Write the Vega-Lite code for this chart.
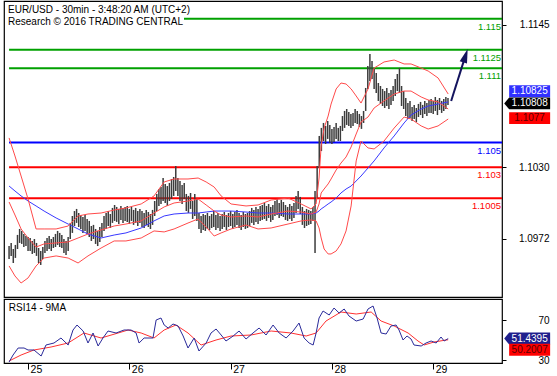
{
"$schema": "https://vega.github.io/schema/vega-lite/v6.json",
"padding": {"left": 3, "top": 0, "right": 0, "bottom": 0},
"autosize": {"type": "pad"},
"background": "white",
"spacing": 0,
"config": {"view": {"stroke": "#000", "strokeWidth": 1.2}, "font": "Liberation Sans", "axis": {"labelFont": "Liberation Sans", "labelColor": "#000", "tickColor": "#000", "domain": false, "grid": false}},
"datasets": {
"one": [{}],
"bars": [{"i":-9,"h":1.09663,"l":1.09559},{"i":-8,"h":1.09688,"l":1.09583},{"i":-7,"h":1.09639,"l":1.09526},{"i":-6,"h":1.09672,"l":1.09567},{"i":-5,"h":1.09753,"l":1.09639},{"i":-4,"h":1.09801,"l":1.09688},{"i":-3,"h":1.09785,"l":1.0968},{"i":-2,"h":1.09761,"l":1.09655},{"i":-1,"h":1.09744,"l":1.09663},{"i":0,"h":1.09736,"l":1.09623},{"i":1,"h":1.09728,"l":1.09623},{"i":2,"h":1.09704,"l":1.09599},{"i":3,"h":1.0972,"l":1.09607},{"i":4,"h":1.09688,"l":1.09583},{"i":5,"h":1.09647,"l":1.09526},{"i":6,"h":1.09623,"l":1.0951},{"i":7,"h":1.09655,"l":1.09559},{"i":8,"h":1.09704,"l":1.09607},{"i":9,"h":1.09728,"l":1.09623},{"i":10,"h":1.09744,"l":1.09639},{"i":11,"h":1.0972,"l":1.09623},{"i":12,"h":1.09736,"l":1.09647},{"i":13,"h":1.09761,"l":1.09655},{"i":14,"h":1.09785,"l":1.09672},{"i":15,"h":1.09769,"l":1.09655},{"i":16,"h":1.09753,"l":1.09647},{"i":17,"h":1.0972,"l":1.09607},{"i":18,"h":1.09704,"l":1.09591},{"i":19,"h":1.09736,"l":1.09623},{"i":20,"h":1.0985,"l":1.0972},{"i":21,"h":1.09906,"l":1.09769},{"i":22,"h":1.09946,"l":1.09825},{"i":23,"h":1.09963,"l":1.0985},{"i":24,"h":1.0993,"l":1.09817},{"i":25,"h":1.09914,"l":1.09801},{"i":26,"h":1.09898,"l":1.09769},{"i":27,"h":1.09914,"l":1.09785},{"i":28,"h":1.09882,"l":1.09761},{"i":29,"h":1.09866,"l":1.09736},{"i":30,"h":1.09825,"l":1.09704},{"i":31,"h":1.09834,"l":1.0972},{"i":32,"h":1.09801,"l":1.0968},{"i":33,"h":1.09785,"l":1.09663},{"i":34,"h":1.09817,"l":1.09696},{"i":35,"h":1.0985,"l":1.09736},{"i":36,"h":1.09906,"l":1.09785},{"i":37,"h":1.0993,"l":1.09801},{"i":38,"h":1.09946,"l":1.09825},{"i":39,"h":1.09922,"l":1.09809},{"i":40,"h":1.09971,"l":1.0985},{"i":41,"h":1.09995,"l":1.09866},{"i":42,"h":1.09979,"l":1.09858},{"i":43,"h":1.09963,"l":1.09842},{"i":44,"h":1.09987,"l":1.09874},{"i":45,"h":1.09971,"l":1.0985},{"i":46,"h":1.09979,"l":1.09866},{"i":47,"h":1.09987,"l":1.09858},{"i":48,"h":1.09963,"l":1.09842},{"i":49,"h":1.09979,"l":1.09866},{"i":50,"h":1.09955,"l":1.09834},{"i":51,"h":1.09971,"l":1.0985},{"i":52,"h":1.09946,"l":1.09825},{"i":53,"h":1.09963,"l":1.0985},{"i":54,"h":1.09946,"l":1.09817},{"i":55,"h":1.0993,"l":1.09809},{"i":56,"h":1.09955,"l":1.09834},{"i":57,"h":1.09938,"l":1.09817},{"i":58,"h":1.09922,"l":1.09801},{"i":59,"h":1.09955,"l":1.09834},{"i":60,"h":1.10027,"l":1.09906},{"i":61,"h":1.10084,"l":1.09946},{"i":62,"h":1.10124,"l":1.09987},{"i":63,"h":1.1014,"l":1.10003},{"i":64,"h":1.10213,"l":1.10027},{"i":65,"h":1.10165,"l":1.10011},{"i":66,"h":1.10148,"l":1.09987},{"i":67,"h":1.10173,"l":1.10027},{"i":68,"h":1.10205,"l":1.10044},{"i":69,"h":1.10221,"l":1.10068},{"i":70,"h":1.1031,"l":1.10108},{"i":71,"h":1.10213,"l":1.10068},{"i":72,"h":1.10189,"l":1.10027},{"i":73,"h":1.10157,"l":1.10003},{"i":74,"h":1.10173,"l":1.10044},{"i":75,"h":1.10084,"l":1.09946},{"i":76,"h":1.10068,"l":1.0993},{"i":77,"h":1.10092,"l":1.09963},{"i":78,"h":1.10027,"l":1.09882},{"i":79,"h":1.10084,"l":1.09906},{"i":80,"h":1.10044,"l":1.09866},{"i":81,"h":1.0993,"l":1.09801},{"i":82,"h":1.09906,"l":1.09769},{"i":83,"h":1.09922,"l":1.09793},{"i":84,"h":1.09914,"l":1.09785},{"i":85,"h":1.0993,"l":1.09801},{"i":86,"h":1.09906,"l":1.09793},{"i":87,"h":1.09922,"l":1.09809},{"i":88,"h":1.09946,"l":1.09817},{"i":89,"h":1.09914,"l":1.09793},{"i":90,"h":1.0993,"l":1.09809},{"i":91,"h":1.09906,"l":1.09785},{"i":92,"h":1.09922,"l":1.09801},{"i":93,"h":1.09938,"l":1.09817},{"i":94,"h":1.09914,"l":1.09793},{"i":95,"h":1.0993,"l":1.09817},{"i":96,"h":1.09946,"l":1.09825},{"i":97,"h":1.09922,"l":1.09801},{"i":98,"h":1.09938,"l":1.09817},{"i":99,"h":1.09955,"l":1.09834},{"i":100,"h":1.0993,"l":1.09809},{"i":101,"h":1.09914,"l":1.09793},{"i":102,"h":1.09938,"l":1.09817},{"i":103,"h":1.09922,"l":1.09801},{"i":104,"h":1.0993,"l":1.09809},{"i":105,"h":1.09946,"l":1.09825},{"i":106,"h":1.09971,"l":1.0985},{"i":107,"h":1.09955,"l":1.09834},{"i":108,"h":1.09979,"l":1.09858},{"i":109,"h":1.09963,"l":1.09842},{"i":110,"h":1.09987,"l":1.09866},{"i":111,"h":1.09995,"l":1.09874},{"i":112,"h":1.10011,"l":1.09882},{"i":113,"h":1.09987,"l":1.09866},{"i":114,"h":1.10003,"l":1.0989},{"i":115,"h":1.09979,"l":1.09858},{"i":116,"h":1.09995,"l":1.09874},{"i":117,"h":1.10027,"l":1.09906},{"i":118,"h":1.10044,"l":1.09914},{"i":119,"h":1.10011,"l":1.0989},{"i":120,"h":1.10036,"l":1.09906},{"i":121,"h":1.10019,"l":1.09898},{"i":122,"h":1.09995,"l":1.09874},{"i":123,"h":1.09979,"l":1.09866},{"i":124,"h":1.10003,"l":1.09882},{"i":125,"h":1.09987,"l":1.09866},{"i":126,"h":1.10011,"l":1.0989},{"i":127,"h":1.10068,"l":1.0993},{"i":128,"h":1.10108,"l":1.09963},{"i":129,"h":1.1006,"l":1.09922},{"i":130,"h":1.09979,"l":1.09834},{"i":131,"h":1.09946,"l":1.09809},{"i":132,"h":1.09963,"l":1.09825},{"i":133,"h":1.09955,"l":1.09834},{"i":134,"h":1.09946,"l":1.09842},{"i":135,"h":1.09979,"l":1.09866},{"i":136,"h":1.10108,"l":1.09607},{"i":137,"h":1.1031,"l":1.10052},{"i":138,"h":1.10553,"l":1.10294},{"i":139,"h":1.10618,"l":1.10431},{"i":140,"h":1.10658,"l":1.10512},{"i":141,"h":1.10634,"l":1.10488},{"i":142,"h":1.10674,"l":1.10529},{"i":143,"h":1.10642,"l":1.10496},{"i":144,"h":1.1061,"l":1.10488},{"i":145,"h":1.10626,"l":1.10504},{"i":146,"h":1.10658,"l":1.10529},{"i":147,"h":1.10618,"l":1.10512},{"i":148,"h":1.10634,"l":1.10512},{"i":149,"h":1.10714,"l":1.10593},{"i":150,"h":1.10755,"l":1.10618},{"i":151,"h":1.10771,"l":1.10642},{"i":152,"h":1.10747,"l":1.10634},{"i":153,"h":1.10731,"l":1.10618},{"i":154,"h":1.10739,"l":1.10634},{"i":155,"h":1.10771,"l":1.10658},{"i":156,"h":1.10755,"l":1.1065},{"i":157,"h":1.10731,"l":1.10626},{"i":158,"h":1.10714,"l":1.1061},{"i":159,"h":1.10755,"l":1.10658},{"i":160,"h":1.10941,"l":1.10755},{"i":161,"h":1.11119,"l":1.10933},{"i":162,"h":1.11216,"l":1.10997},{"i":163,"h":1.11159,"l":1.11014},{"i":164,"h":1.11103,"l":1.10933},{"i":165,"h":1.11062,"l":1.109},{"i":166,"h":1.10981,"l":1.10836},{"i":167,"h":1.10957,"l":1.10812},{"i":168,"h":1.10933,"l":1.10795},{"i":169,"h":1.10916,"l":1.10779},{"i":170,"h":1.10941,"l":1.10795},{"i":171,"h":1.109,"l":1.10771},{"i":172,"h":1.10925,"l":1.10804},{"i":173,"h":1.10957,"l":1.10836},{"i":174,"h":1.11014,"l":1.10876},{"i":175,"h":1.11054,"l":1.10916},{"i":176,"h":1.11103,"l":1.109},{"i":177,"h":1.10957,"l":1.10795},{"i":178,"h":1.10916,"l":1.10771},{"i":179,"h":1.1086,"l":1.10714},{"i":180,"h":1.1082,"l":1.1069},{"i":181,"h":1.10836,"l":1.10698},{"i":182,"h":1.10787,"l":1.10674},{"i":183,"h":1.10804,"l":1.1069},{"i":184,"h":1.10779,"l":1.10666},{"i":185,"h":1.10812,"l":1.10706},{"i":186,"h":1.10828,"l":1.10722},{"i":187,"h":1.10804,"l":1.10698},{"i":188,"h":1.10836,"l":1.10731},{"i":189,"h":1.1082,"l":1.10714},{"i":190,"h":1.10844,"l":1.10739},{"i":191,"h":1.10852,"l":1.10739},{"i":192,"h":1.10836,"l":1.10731},{"i":193,"h":1.10868,"l":1.10755},{"i":194,"h":1.10844,"l":1.10722},{"i":195,"h":1.1086,"l":1.10763},{"i":196,"h":1.10836,"l":1.10739},{"i":197,"h":1.10852,"l":1.10755},{"i":198,"h":1.10868,"l":1.10771},{"i":199,"h":1.1086,"l":1.10804}],
"bands": [{"i":-9,"u":1.10537,"m":1.10019,"lo":1.09502,"ma":1.10148},{"i":-6.2,"u":1.10391,"m":1.09914,"lo":1.09421,"ma":1.10108},{"i":-3.3,"u":1.10229,"m":1.09801,"lo":1.09364,"ma":1.10068},{"i":0,"u":1.10043,"m":1.09728,"lo":1.09405,"ma":1.10027},{"i":3.8,"u":1.09801,"m":1.09655,"lo":1.09502,"ma":1.09987},{"i":7.6,"u":1.09801,"m":1.0968,"lo":1.09566,"ma":1.09946},{"i":13.3,"u":1.09801,"m":1.09688,"lo":1.09583,"ma":1.0989},{"i":19,"u":1.09825,"m":1.09696,"lo":1.09566,"ma":1.09841},{"i":23.7,"u":1.09906,"m":1.09728,"lo":1.09526,"ma":1.09801},{"i":28.4,"u":1.09922,"m":1.0976,"lo":1.09583,"ma":1.0976},{"i":34.6,"u":1.0993,"m":1.09793,"lo":1.09647,"ma":1.09728},{"i":40.8,"u":1.09954,"m":1.09825,"lo":1.09704,"ma":1.09752},{"i":46.4,"u":1.09971,"m":1.09841,"lo":1.09704,"ma":1.09769},{"i":53.6,"u":1.10003,"m":1.09866,"lo":1.09728,"ma":1.09809},{"i":59.7,"u":1.10068,"m":1.0993,"lo":1.09785,"ma":1.09866},{"i":64.5,"u":1.10181,"m":1.09979,"lo":1.09777,"ma":1.09906},{"i":69.2,"u":1.10205,"m":1.10011,"lo":1.09801,"ma":1.09922},{"i":75.8,"u":1.10205,"m":1.10027,"lo":1.09849,"ma":1.0993},{"i":80.6,"u":1.10213,"m":1.10043,"lo":1.09882,"ma":1.0993},{"i":84.4,"u":1.10181,"m":1.09995,"lo":1.09817,"ma":1.09938},{"i":88.2,"u":1.1014,"m":1.09946,"lo":1.09744,"ma":1.09946},{"i":91.5,"u":1.10068,"m":1.09914,"lo":1.09769,"ma":1.09946},{"i":96.2,"u":1.10003,"m":1.09898,"lo":1.09801,"ma":1.09946},{"i":103.3,"u":1.09987,"m":1.09906,"lo":1.09833,"ma":1.09938},{"i":109,"u":1.09995,"m":1.09898,"lo":1.09801,"ma":1.0993},{"i":115.2,"u":1.10035,"m":1.09922,"lo":1.09809,"ma":1.0993},{"i":123.2,"u":1.10051,"m":1.09946,"lo":1.09841,"ma":1.09922},{"i":129.4,"u":1.10003,"m":1.09938,"lo":1.09866,"ma":1.09922},{"i":134.1,"u":1.09963,"m":1.09922,"lo":1.09874,"ma":1.09922},{"i":136.5,"u":1.10003,"m":1.09938,"lo":1.09866,"ma":1.0993},{"i":137.9,"u":1.10213,"m":1.10003,"lo":1.09809,"ma":1.09946},{"i":138.9,"u":1.10472,"m":1.10092,"lo":1.09728,"ma":1.09963},{"i":140.3,"u":1.10617,"m":1.10124,"lo":1.09639,"ma":1.09979},{"i":142.2,"u":1.10714,"m":1.10165,"lo":1.09599,"ma":1.10003},{"i":143.6,"u":1.10811,"m":1.10205,"lo":1.09599,"ma":1.10019},{"i":146,"u":1.10933,"m":1.10278,"lo":1.09623,"ma":1.10051},{"i":148.3,"u":1.10981,"m":1.10334,"lo":1.0968,"ma":1.10092},{"i":150.7,"u":1.10973,"m":1.10383,"lo":1.09785,"ma":1.10124},{"i":153.1,"u":1.10933,"m":1.10464,"lo":1.09987,"ma":1.10148},{"i":155.5,"u":1.10876,"m":1.10569,"lo":1.10351,"ma":1.10189},{"i":157.8,"u":1.10819,"m":1.10666,"lo":1.10512,"ma":1.10229},{"i":161.1,"u":1.10933,"m":1.10706,"lo":1.10456,"ma":1.10294},{"i":164,"u":1.11102,"m":1.10779,"lo":1.10448,"ma":1.10351},{"i":168.7,"u":1.11151,"m":1.10836,"lo":1.10512,"ma":1.10456},{"i":173.5,"u":1.11167,"m":1.10892,"lo":1.10617,"ma":1.10553},{"i":178.2,"u":1.11135,"m":1.10916,"lo":1.10706,"ma":1.10658},{"i":181.5,"u":1.11135,"m":1.10916,"lo":1.1069,"ma":1.10722},{"i":186.3,"u":1.11102,"m":1.10868,"lo":1.10634,"ma":1.10771},{"i":189.6,"u":1.11078,"m":1.10844,"lo":1.10609,"ma":1.10795},{"i":194.3,"u":1.11022,"m":1.10828,"lo":1.10634,"ma":1.10811},{"i":199.1,"u":1.10892,"m":1.10771,"lo":1.1069,"ma":1.10828}],
"levels": [{"lvl":1.115,"k":"res","lbl":"1.115","i0":73.9},{"lvl":1.1125,"k":"res","lbl":"1.1125","i0":-9},{"lvl":1.111,"k":"res","lbl":"1.111","i0":-9},{"lvl":1.105,"k":"piv","lbl":"1.105","i0":-9},{"lvl":1.103,"k":"sup","lbl":"1.103","i0":-9},{"lvl":1.1005,"k":"sup","lbl":"1.1005","i0":-9}],
"arrow": [{"i":200.5,"p":1.10836},{"i":207.3,"p":1.11202}],
"rsi": [{"i":-9,"v":28},{"i":-7.1,"v":35},{"i":-4.7,"v":42},{"i":-1.9,"v":42},{"i":0,"v":40},{"i":2.8,"v":40},{"i":6.2,"v":34},{"i":8.5,"v":45},{"i":12.3,"v":47},{"i":15.6,"v":52},{"i":19,"v":45},{"i":21.3,"v":60},{"i":23.2,"v":65},{"i":26.1,"v":59},{"i":28.4,"v":47},{"i":30.8,"v":57},{"i":33.2,"v":44},{"i":35.5,"v":52},{"i":37.9,"v":59},{"i":41.7,"v":57},{"i":45.5,"v":60},{"i":48.8,"v":60},{"i":51.2,"v":57},{"i":52.6,"v":47},{"i":55,"v":52},{"i":59.2,"v":52},{"i":60.7,"v":70},{"i":63,"v":72},{"i":64.5,"v":65},{"i":66.4,"v":62},{"i":68.7,"v":66},{"i":71.1,"v":64},{"i":73.5,"v":54},{"i":75.8,"v":42},{"i":78.7,"v":52},{"i":81,"v":39},{"i":84.4,"v":47},{"i":86.7,"v":57},{"i":89.1,"v":61},{"i":91.5,"v":55},{"i":93.8,"v":49},{"i":97.2,"v":54},{"i":100,"v":59},{"i":103.3,"v":51},{"i":106.6,"v":57},{"i":109.5,"v":62},{"i":112.8,"v":55},{"i":116.1,"v":65},{"i":119,"v":57},{"i":122.3,"v":52},{"i":125.6,"v":59},{"i":128.4,"v":67},{"i":130.8,"v":52},{"i":133.2,"v":47},{"i":135.1,"v":45},{"i":136.5,"v":57},{"i":137.9,"v":72},{"i":139.8,"v":79},{"i":142.7,"v":75},{"i":145,"v":82},{"i":147.4,"v":77},{"i":149.8,"v":81},{"i":152.1,"v":74},{"i":155.5,"v":69},{"i":158.8,"v":71},{"i":161.1,"v":81},{"i":163.5,"v":84},{"i":165.4,"v":72},{"i":167.3,"v":57},{"i":169.7,"v":56},{"i":172,"v":64},{"i":174.4,"v":65},{"i":175.8,"v":60},{"i":177.7,"v":50},{"i":179.6,"v":54},{"i":181.5,"v":51},{"i":182.9,"v":45},{"i":186.3,"v":44},{"i":188.6,"v":47},{"i":191,"v":49},{"i":193.4,"v":47},{"i":195.7,"v":53},{"i":197.2,"v":49},{"i":199.1,"v":51.44}],
"rsima": [{"i":-9,"v":29},{"i":-3.3,"v":35},{"i":2.8,"v":40},{"i":10.9,"v":43},{"i":19,"v":47},{"i":26.5,"v":57},{"i":34.6,"v":52},{"i":42.7,"v":57},{"i":47.4,"v":60},{"i":53.6,"v":57},{"i":59.7,"v":52},{"i":64.5,"v":60},{"i":70.1,"v":65},{"i":75.8,"v":57},{"i":82,"v":45},{"i":89.1,"v":50},{"i":96.2,"v":54},{"i":105.7,"v":55},{"i":115.2,"v":59},{"i":124.6,"v":57},{"i":131.8,"v":54},{"i":136.5,"v":57},{"i":141.2,"v":69},{"i":148.3,"v":78},{"i":155.5,"v":76},{"i":162.6,"v":78},{"i":167.3,"v":69},{"i":173.5,"v":64},{"i":180.1,"v":57},{"i":184.8,"v":49},{"i":187.7,"v":45},{"i":192.4,"v":48},{"i":198.1,"v":50},{"i":199.1,"v":50.2}]
},
"vconcat": [
{
"width": 498, "height": 296,
"layer": [
{"data": {"name": "levels"}, "mark": {"type": "rule", "strokeWidth": 2},
 "encoding": {
  "x": {"field": "i0", "type": "quantitative", "scale": {"domain": [-11.4, 224.6], "nice": false, "zero": false}, "axis": null, "title": null},
  "x2": {"datum": 224.6},
  "y": {"field": "lvl", "type": "quantitative", "scale": {"domain": [1.09251, 1.11644], "nice": false, "zero": false}, "title": null,
        "axis": {"orient": "right", "values": [1.0972, 1.103, 1.1145], "format": ".4f", "tickSize": 4, "labelAlign": "right", "labelPadding": 43, "labelFontSize": 10, "title": null}},
  "color": {"field": "k", "type": "nominal", "scale": {"domain": ["res", "piv", "sup"], "range": ["#00a000", "#0000ff", "#ff0000"]}, "legend": null}}},
{"data": {"name": "levels"}, "mark": {"type": "text", "align": "right", "baseline": "top", "dx": -1, "dy": 3, "fontSize": 9.5},
 "encoding": {
  "x": {"datum": 224.6, "type": "quantitative", "axis": null},
  "y": {"field": "lvl", "type": "quantitative", "title": null},
  "text": {"field": "lbl"},
  "color": {"field": "k", "type": "nominal", "legend": null}}},
{"data": {"name": "bars"}, "mark": {"type": "rule", "color": "#3c3c3c", "strokeWidth": 1.5},
 "encoding": {
  "x": {"field": "i", "type": "quantitative", "axis": null, "title": null},
  "y": {"field": "l", "type": "quantitative", "title": null},
  "y2": {"field": "h"}}},
{"data": {"name": "bands"}, "mark": {"type": "line", "color": "#3838ff", "strokeWidth": 1},
 "encoding": {"x": {"field": "i", "type": "quantitative", "axis": null, "title": null}, "y": {"field": "ma", "type": "quantitative", "title": null}}},
{"data": {"name": "bands"}, "mark": {"type": "line", "color": "#ff4a4a", "strokeWidth": 1},
 "encoding": {"x": {"field": "i", "type": "quantitative", "axis": null, "title": null}, "y": {"field": "u", "type": "quantitative", "title": null}}},
{"data": {"name": "bands"}, "mark": {"type": "line", "color": "#ff4a4a", "strokeWidth": 1},
 "encoding": {"x": {"field": "i", "type": "quantitative", "axis": null, "title": null}, "y": {"field": "m", "type": "quantitative", "title": null}}},
{"data": {"name": "bands"}, "mark": {"type": "line", "color": "#ff4a4a", "strokeWidth": 1},
 "encoding": {"x": {"field": "i", "type": "quantitative", "axis": null, "title": null}, "y": {"field": "lo", "type": "quantitative", "title": null}}},
{"data": {"name": "arrow"}, "mark": {"type": "line", "color": "#14145e", "strokeWidth": 2},
 "encoding": {"x": {"field": "i", "type": "quantitative", "axis": null, "title": null}, "y": {"field": "p", "type": "quantitative", "title": null}}},
{"data": {"name": "one"}, "mark": {"type": "point", "shape": "M0,-1L0.55,1L-0.55,1Z", "size": 196, "angle": 18, "filled": true, "color": "#14145e", "opacity": 1},
 "encoding": {"x": {"datum": 207.3, "type": "quantitative", "axis": null}, "y": {"datum": 1.11202, "type": "quantitative"}}},
{"data": {"name": "one"}, "mark": {"type": "text", "text": ["EUR/USD - 30min - 3:48:20 AM (UTC+2)", "Research © 2016 TRADING CENTRAL"], "align": "left", "baseline": "alphabetic", "fontSize": 10, "lineHeight": 12, "color": "#000"},
 "encoding": {"x": {"datum": -9.5, "type": "quantitative", "axis": null}, "y": {"datum": 1.11547, "type": "quantitative"}}},
{"data": {"name": "one"}, "mark": {"type": "point", "shape": "M-1,-0.29H1V0.29H-1Z", "size": 1681, "filled": true, "color": "#3030ff", "opacity": 1, "yOffset": -11},
 "encoding": {"x": {"datum": 237.7, "type": "quantitative", "axis": null}, "y": {"datum": 1.10825, "type": "quantitative"}}},
{"data": {"name": "one"}, "mark": {"type": "text", "text": "1.10825", "color": "#fff", "fontSize": 10, "align": "center", "baseline": "middle", "yOffset": -11},
 "encoding": {"x": {"datum": 237.7, "type": "quantitative", "axis": null}, "y": {"datum": 1.10825, "type": "quantitative"}}},
{"data": {"name": "one"}, "mark": {"type": "point", "shape": "M-1.24,0L-1,-0.29H1V0.29H-1Z", "size": 1681, "filled": true, "color": "#000", "opacity": 1, "yOffset": -1},
 "encoding": {"x": {"datum": 237.7, "type": "quantitative", "axis": null}, "y": {"datum": 1.10808, "type": "quantitative"}}},
{"data": {"name": "one"}, "mark": {"type": "text", "text": "1.10808", "color": "#fff", "fontSize": 10, "align": "center", "baseline": "middle", "yOffset": -1},
 "encoding": {"x": {"datum": 237.7, "type": "quantitative", "axis": null}, "y": {"datum": 1.10808, "type": "quantitative"}}},
{"data": {"name": "one"}, "mark": {"type": "point", "shape": "M-1,-0.29H1V0.29H-1Z", "size": 1681, "filled": true, "color": "#ff0000", "opacity": 1, "yOffset": 9},
 "encoding": {"x": {"datum": 237.7, "type": "quantitative", "axis": null}, "y": {"datum": 1.1077, "type": "quantitative"}}},
{"data": {"name": "one"}, "mark": {"type": "text", "text": "1.1077", "color": "#5a0000", "fontSize": 10, "align": "center", "baseline": "middle", "yOffset": 9},
 "encoding": {"x": {"datum": 237.7, "type": "quantitative", "axis": null}, "y": {"datum": 1.1077, "type": "quantitative"}}}
]
},
{
"width": 498, "height": 64,
"layer": [
{"data": {"name": "rsima"}, "mark": {"type": "line", "color": "#ff3030", "strokeWidth": 1},
 "encoding": {
  "x": {"field": "i", "type": "quantitative", "scale": {"domain": [-11.4, 224.6], "nice": false, "zero": false}, "title": null,
        "axis": {"values": [0, 48, 96, 144, 192], "labelExpr": "'' + (datum.value / 48 + 25)", "tickSize": 6, "labelAlign": "left", "labelBaseline": "top", "labelPadding": -5, "labelOffset": 2, "labelFontSize": 10.5, "labelOverlap": false, "labelFlush": false, "title": null}},
  "y": {"field": "v", "type": "quantitative", "scale": {"domain": [27, 91], "nice": false, "zero": false}, "title": null,
        "axis": {"orient": "right", "values": [30, 70], "tickSize": 4, "labelAlign": "right", "labelPadding": 43, "labelFontSize": 10, "title": null}}}},
{"data": {"name": "rsi"}, "mark": {"type": "line", "color": "#2a2a9a", "strokeWidth": 1},
 "encoding": {"x": {"field": "i", "type": "quantitative", "title": null}, "y": {"field": "v", "type": "quantitative", "title": null}}},
{"data": {"name": "one"}, "mark": {"type": "text", "text": "RSI14 - 9MA", "align": "left", "baseline": "alphabetic", "fontSize": 10, "color": "#000"},
 "encoding": {"x": {"datum": -9.1, "type": "quantitative"}, "y": {"datum": 79, "type": "quantitative"}}},
{"data": {"name": "one"}, "mark": {"type": "point", "shape": "M-1.24,0L-1,-0.29H1V0.29H-1Z", "size": 1681, "filled": true, "color": "#1f1f8c", "opacity": 1},
 "encoding": {"x": {"datum": 237.7, "type": "quantitative"}, "y": {"datum": 51.44, "type": "quantitative"}}},
{"data": {"name": "one"}, "mark": {"type": "text", "text": "51.4395", "color": "#fff", "fontSize": 10, "align": "center", "baseline": "middle"},
 "encoding": {"x": {"datum": 237.7, "type": "quantitative"}, "y": {"datum": 51.44, "type": "quantitative"}}},
{"data": {"name": "one"}, "mark": {"type": "point", "shape": "M-1,-0.29H1V0.29H-1Z", "size": 1681, "filled": true, "color": "#ff0000", "opacity": 1, "yOffset": 10},
 "encoding": {"x": {"datum": 237.7, "type": "quantitative"}, "y": {"datum": 50.2, "type": "quantitative"}}},
{"data": {"name": "one"}, "mark": {"type": "text", "text": "50.2007", "color": "#5a0000", "fontSize": 10, "align": "center", "baseline": "middle", "yOffset": 10},
 "encoding": {"x": {"datum": 237.7, "type": "quantitative"}, "y": {"datum": 50.2, "type": "quantitative"}}}
]
}
]
}
